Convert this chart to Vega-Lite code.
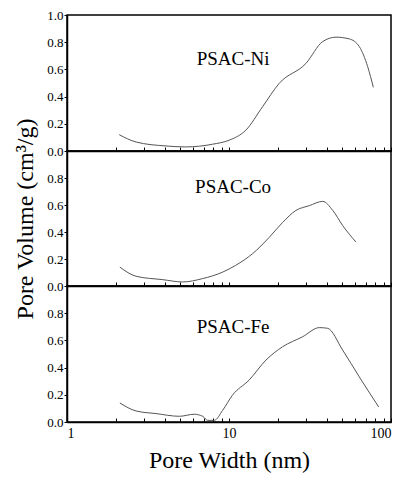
{
  "$schema": "https://vega.github.io/schema/vega-lite/v6.json",
  "padding": {"left": 12, "top": 8, "right": 5, "bottom": 5},
  "background": "white",
  "spacing": 0,
  "bounds": "flush",
  "config": {
    "font": "Liberation Serif",
    "view": {"stroke": "black", "strokeWidth": 1.5},
    "axis": {
      "domainColor": "black", "tickColor": "black", "labelColor": "black", "titleColor": "black",
      "grid": false, "labelFont": "Liberation Serif", "titleFont": "Liberation Serif",
      "titleFontWeight": "normal", "labelFontSize": 13, "titleFontSize": 24, "labelOverlap": false, "tickWidth": 1
    }
  },
  "datasets": {
    "curves": [
      {"sample": "Ni", "width": 2.1, "volume": 0.12},
      {"sample": "Ni", "width": 2.67, "volume": 0.066},
      {"sample": "Ni", "width": 4.08, "volume": 0.037},
      {"sample": "Ni", "width": 5.43, "volume": 0.03},
      {"sample": "Ni", "width": 7.93, "volume": 0.05},
      {"sample": "Ni", "width": 10.0, "volume": 0.079},
      {"sample": "Ni", "width": 12.7, "volume": 0.153},
      {"sample": "Ni", "width": 16.1, "volume": 0.325},
      {"sample": "Ni", "width": 20.4, "volume": 0.497},
      {"sample": "Ni", "width": 29.9, "volume": 0.645},
      {"sample": "Ni", "width": 37.9, "volume": 0.805},
      {"sample": "Ni", "width": 45.8, "volume": 0.837},
      {"sample": "Ni", "width": 55.3, "volume": 0.824},
      {"sample": "Ni", "width": 63.7, "volume": 0.768},
      {"sample": "Ni", "width": 71.8, "volume": 0.62},
      {"sample": "Ni", "width": 77.8, "volume": 0.468},
      {"sample": "Co", "width": 2.12, "volume": 0.14},
      {"sample": "Co", "width": 2.67, "volume": 0.072},
      {"sample": "Co", "width": 3.9, "volume": 0.047},
      {"sample": "Co", "width": 5.18, "volume": 0.03},
      {"sample": "Co", "width": 6.88, "volume": 0.055},
      {"sample": "Co", "width": 9.14, "volume": 0.103},
      {"sample": "Co", "width": 11.0, "volume": 0.153},
      {"sample": "Co", "width": 14.0, "volume": 0.24},
      {"sample": "Co", "width": 17.7, "volume": 0.36},
      {"sample": "Co", "width": 21.4, "volume": 0.47},
      {"sample": "Co", "width": 25.9, "volume": 0.56},
      {"sample": "Co", "width": 31.3, "volume": 0.595},
      {"sample": "Co", "width": 37.9, "volume": 0.627},
      {"sample": "Co", "width": 43.7, "volume": 0.56},
      {"sample": "Co", "width": 50.3, "volume": 0.448},
      {"sample": "Co", "width": 60.8, "volume": 0.325},
      {"sample": "Fe", "width": 2.12, "volume": 0.14},
      {"sample": "Fe", "width": 2.67, "volume": 0.081},
      {"sample": "Fe", "width": 3.54, "volume": 0.062},
      {"sample": "Fe", "width": 4.94, "volume": 0.042},
      {"sample": "Fe", "width": 6.1, "volume": 0.057},
      {"sample": "Fe", "width": 6.88, "volume": 0.042},
      {"sample": "Fe", "width": 7.38, "volume": 0.012},
      {"sample": "Fe", "width": 8.11, "volume": 0.012},
      {"sample": "Fe", "width": 9.14, "volume": 0.086},
      {"sample": "Fe", "width": 10.5, "volume": 0.197},
      {"sample": "Fe", "width": 13.3, "volume": 0.308},
      {"sample": "Fe", "width": 16.9, "volume": 0.455},
      {"sample": "Fe", "width": 21.4, "volume": 0.553},
      {"sample": "Fe", "width": 28.5, "volume": 0.627},
      {"sample": "Fe", "width": 36.1, "volume": 0.694},
      {"sample": "Fe", "width": 40.6, "volume": 0.689},
      {"sample": "Fe", "width": 50.3, "volume": 0.529},
      {"sample": "Fe", "width": 63.7, "volume": 0.332},
      {"sample": "Fe", "width": 84.0, "volume": 0.11}
    ]
  },
  "vconcat": [
    {
      "width": 324, "height": 136,
      "encoding": {
        "x": {"field": "width", "type": "quantitative", "scale": {"type": "log", "domain": [1, 100]},
              "axis": {"values": [1,2,3,4,5,6,7,8,9,10,20,30,40,50,60,70,80,90,100], "labels": false, "tickSize": -4, "title": null, "domainWidth": 1.5}},
        "y": {"field": "volume", "type": "quantitative", "scale": {"domain": [0, 1]},
              "axis": {"values": [0, 0.2, 0.4, 0.6, 0.8, 1.0], "format": ".1f", "tickSize": 3, "labelPadding": 1, "title": null, "domainWidth": 1.5}}
      },
      "layer": [
        {
          "data": {"name": "curves"},
          "transform": [{"filter": "datum.sample === 'Ni'"}],
          "mark": {"type": "line", "interpolate": "monotone", "color": "#555", "strokeWidth": 1}
        },
        {
          "data": {"values": [{"label": "PSAC-Ni", "width": 10.6, "volume": 0.68}]},
          "mark": {"type": "text", "fontSize": 19, "font": "Liberation Serif", "color": "black"},
          "encoding": {"text": {"field": "label"}}
        }
      ]
    },
    {
      "width": 324, "height": 135,
      "encoding": {
        "x": {"field": "width", "type": "quantitative", "scale": {"type": "log", "domain": [1, 100]},
              "axis": {"values": [1,2,3,4,5,6,7,8,9,10,20,30,40,50,60,70,80,90,100], "labels": false, "tickSize": -4, "title": null, "domainWidth": 1.5}},
        "y": {"field": "volume", "type": "quantitative", "scale": {"domain": [0, 1]},
              "axis": {"values": [0, 0.2, 0.4, 0.6, 0.8], "format": ".1f", "tickSize": 3, "labelPadding": 1, "title": "Pore Volume (cm³/g)", "titlePadding": 9, "domainWidth": 1.5}}
      },
      "layer": [
        {
          "data": {"name": "curves"},
          "transform": [{"filter": "datum.sample === 'Co'"}],
          "mark": {"type": "line", "interpolate": "monotone", "color": "#555", "strokeWidth": 1}
        },
        {
          "data": {"values": [{"label": "PSAC-Co", "width": 10.6, "volume": 0.736}]},
          "mark": {"type": "text", "fontSize": 19, "font": "Liberation Serif", "color": "black"},
          "encoding": {"text": {"field": "label"}}
        }
      ]
    },
    {
      "width": 324, "height": 136,
      "encoding": {
        "x": {"field": "width", "type": "quantitative", "scale": {"type": "log", "domain": [1, 100]},
              "axis": {"values": [1,2,3,4,5,6,7,8,9,10,20,30,40,50,60,70,80,90,100], "labelExpr": "(datum.value == 1 || datum.value == 10 || datum.value == 100) ? datum.label : ''", "tickSize": -4, "labelPadding": 8, "labelFontSize": 14, "title": "Pore Width (nm)", "titlePadding": 8, "domainWidth": 1.5}},
        "y": {"field": "volume", "type": "quantitative", "scale": {"domain": [0, 1]},
              "axis": {"values": [0, 0.2, 0.4, 0.6, 0.8], "format": ".1f", "tickSize": 3, "labelPadding": 1, "title": null, "domainWidth": 1.5}}
      },
      "layer": [
        {
          "data": {"name": "curves"},
          "transform": [{"filter": "datum.sample === 'Fe'"}],
          "mark": {"type": "line", "interpolate": "monotone", "color": "#555", "strokeWidth": 1}
        },
        {
          "data": {"values": [{"label": "PSAC-Fe", "width": 10.6, "volume": 0.70}]},
          "mark": {"type": "text", "fontSize": 19, "font": "Liberation Serif", "color": "black"},
          "encoding": {"text": {"field": "label"}}
        }
      ]
    }
  ]
}
